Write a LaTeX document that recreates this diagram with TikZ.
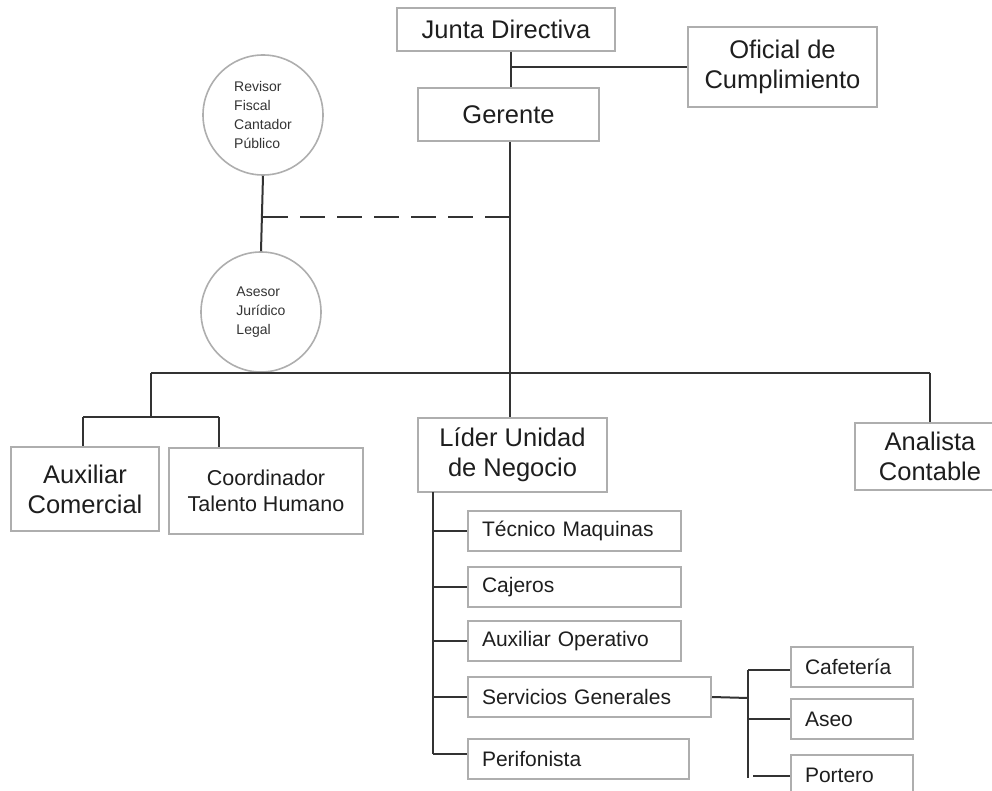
\documentclass[tikz,border=0pt]{standalone}
\usepackage{fontspec}
\setmainfont{Liberation Sans}
\definecolor{boxgray}{HTML}{AEAEAE}
\definecolor{linegray}{HTML}{333333}
\definecolor{txt}{HTML}{1E1E1E}
\begin{document}
\begin{tikzpicture}[x=1pt,y=-1pt,
  box/.style={draw=boxgray, line width=2pt, inner sep=0pt, text=txt, align=center, font=\fontsize{25.5}{30}\selectfont},
  midbox/.style={draw=boxgray, line width=2pt, inner sep=0pt, text=txt, align=center, font=\fontsize{21.5}{26}\selectfont},
  subbox/.style={draw=boxgray, line width=2pt, inner ysep=0pt, inner xsep=14pt, text=txt, align=left, font=\fontsize{21}{25}\selectfont},
  circ/.style={circle, draw=boxgray, line width=1.6pt, minimum size=120pt, inner sep=0pt, text=linegray, align=left, font=\fontsize{14}{18.7}\selectfont},
  conn/.style={draw=linegray, line width=2pt},
  dconn/.style={draw=linegray, line width=2pt, dash pattern=on 25pt off 12pt}]
\useasboundingbox (0,0) rectangle (992,791);
\clip (0,0) rectangle (992,791);
% boxes
\node[box, minimum width=218pt, minimum height=43pt] (junta) at (506,29.5) {Junta Directiva};
\node[box, minimum width=189pt, minimum height=80pt] (oficial) at (782.5,67) {Oficial de\\Cumplimiento};
\node[box, minimum width=181pt, minimum height=53pt] (gerente) at (508.5,114.5) {Gerente};
\node[circ] (revisor) at (263,115) {Revisor\\Fiscal\\Cantador\\Público};
\node[circ] (asesor) at (261,312) {Asesor\\Jurídico\\Legal};
\node[box, minimum width=148pt, minimum height=84pt] (auxcom) at (85,489) {Auxiliar\\Comercial};
\node[midbox, minimum width=194pt, minimum height=86pt] (coord) at (266,491) {Coordinador\\Talento Humano};
\node[box, minimum width=189pt, minimum height=74pt] (lider) at (512.5,455) {Líder Unidad\\de Negocio};
\node[box, minimum width=150pt, minimum height=67pt] (analista) at (930,456.5) {Analista\\Contable};
\node[subbox, text width=185pt, minimum height=40pt] (tecnico) at (574.5,531) {Técnico Maquinas};
\node[subbox, text width=185pt, minimum height=40pt] (cajeros) at (574.5,587) {Cajeros};
\node[subbox, text width=185pt, minimum height=40pt] (auxop) at (574.5,641) {Auxiliar Operativo};
\node[subbox, text width=215pt, minimum height=40pt] (servicios) at (589.5,697) {Servicios Generales};
\node[subbox, text width=193pt, minimum height=40pt] (perif) at (578.5,759) {Perifonista};
\node[subbox, text width=94pt, minimum height=40pt] (cafe) at (852,667) {Cafetería};
\node[subbox, text width=94pt, minimum height=40pt] (aseo) at (852,719) {Aseo};
\node[subbox, text width=94pt, minimum height=40pt] (portero) at (852,775) {Portero};
% coordinates
\coordinate (jg) at (511,67);
\coordinate (dash) at (510,217);
\coordinate (dashL) at (263,217);
\coordinate (main) at (510,373);
\coordinate (mainL) at (151,373);
\coordinate (mainR) at (930,373);
\coordinate (lbranch) at (151,417);
\coordinate (lbranchL) at (83,417);
\coordinate (lbranchR) at (219,417);
\coordinate (sub) at (433,492);
\coordinate (subB) at (433,754);
\coordinate (sg) at (748,698);
\coordinate (sgT) at (748,670);
\coordinate (sgB) at (748,778);
\coordinate (pt) at (753,776);
% connectors
\draw[conn] (junta.south -| jg) -- (gerente.north -| jg);
\draw[conn] (jg) -- (oficial.west |- jg);
\draw[conn] (gerente.south -| main) -- (main);
\draw[dconn] (dashL) -- (dash);
\draw[conn] (revisor.south) -- (asesor.north);
\draw[conn] (mainL) -- (mainR);
\draw[conn] (mainL) -- (lbranch);
\draw[conn] (lbranchL) -- (lbranchR);
\draw[conn] (lbranchL) -- (auxcom.north -| lbranchL);
\draw[conn] (lbranchR) -- (coord.north -| lbranchR);
\draw[conn] (main) -- (lider.north -| main);
\draw[conn] (mainR) -- (analista.north -| mainR);
\draw[conn] (sub) -- (subB);
\draw[conn] (sub |- tecnico.west) -- (tecnico.west);
\draw[conn] (sub |- cajeros.west) -- (cajeros.west);
\draw[conn] (sub |- auxop.west) -- (auxop.west);
\draw[conn] (sub |- servicios.west) -- (servicios.west);
\draw[conn] (sub |- subB) -- (perif.west |- subB);
\draw[conn] (servicios.east) -- (sg);
\draw[conn] (sgT) -- (sgB);
\draw[conn] (sgT) -- (cafe.west |- sgT);
\draw[conn] (sg |- aseo.west) -- (aseo.west);
\draw[conn] (pt) -- (portero.west |- pt);
\end{tikzpicture}
\end{document}
